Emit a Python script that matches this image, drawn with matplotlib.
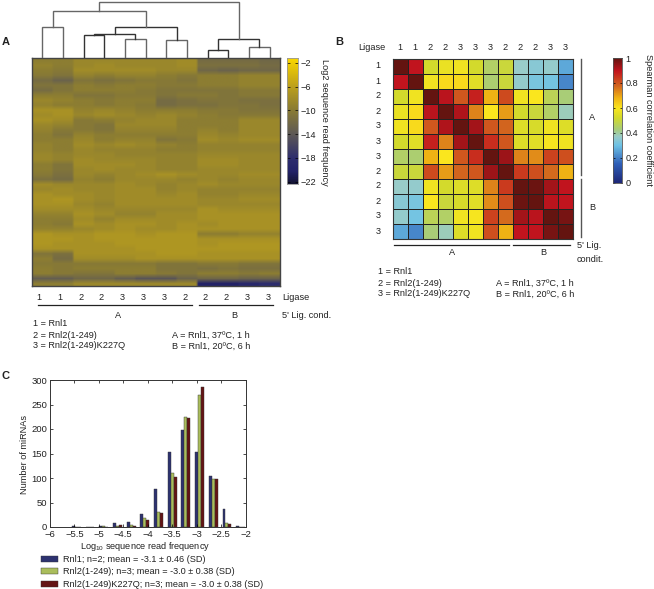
import matplotlib
matplotlib.use('Agg')
import matplotlib.pyplot as plt
import numpy as np
from matplotlib.colors import LinearSegmentedColormap

plt.rcParams['font.family'] = ['Liberation Sans', 'DejaVu Sans']
plt.rcParams['font.size'] = 6.6
plt.rcParams['mathtext.default'] = 'regular'

W, H = 654, 589

# panel A, log2 read frequency, one row per band (top to bottom), 12 libraries
heat_rows = [
    [-10, -10, -9, -9, -9, -9, -9, -8.5, -12, -12, -12, -12.5],
    [-9.5, -10, -9, -8.5, -9, -9, -9, -8.5, -11.5, -11.5, -11.5, -12],
    [-10, -10.5, -8.5, -8.5, -8.5, -8.5, -9, -9, -12.5, -13, -12.5, -12.5],
    [-10.5, -11, -9.5, -10, -9.5, -9.5, -10, -10.5, -10, -10, -9.5, -9.5],
    [-12, -13, -11, -11.5, -11, -10.5, -10.5, -11, -10, -10, -9.5, -9.5],
    [-11, -11, -10, -10.5, -10, -10, -10.5, -10.5, -10, -10, -9.5, -9.5],
    [-12, -11, -10, -10, -10, -10.5, -11, -11, -11, -11, -10.5, -10.5],
    [-10, -10, -11, -11, -10.5, -10.5, -11, -10.5, -10.5, -11, -10.5, -10.5],
    [-9, -9.5, -10, -10.5, -10, -10, -12, -11.5, -11, -11, -11.5, -11.5],
    [-9.5, -10, -10, -10.5, -10, -10.5, -12, -11.5, -11.5, -11, -11, -11.5],
    [-8, -8, -9.5, -9, -9.5, -10, -10, -10, -10.5, -10.5, -11, -11],
    [-8.5, -8, -9, -8.5, -9, -9.5, -9, -9.5, -10, -10.5, -10.5, -10.5],
    [-8, -8.5, -10.5, -10, -9.5, -9, -9, -10, -10, -10, -9, -9],
    [-9, -9.5, -10.5, -11, -9, -9, -9, -10, -10, -10, -9, -9],
    [-9.5, -10.5, -10.5, -11, -9.5, -9.5, -9.5, -10, -9.5, -10, -9, -9],
    [-10, -11, -9.5, -10, -10, -10, -10, -10, -9, -9.5, -9, -9],
    [-10, -10, -9, -10, -9.5, -9.5, -11, -10.5, -8.5, -9, -8.5, -8.5],
    [-9.5, -10, -8.5, -9, -8.5, -9, -9.5, -10, -9.5, -9.5, -9.5, -9.5],
    [-9.5, -10, -9, -9.5, -9.5, -9.5, -10, -10, -9.5, -9.5, -9.5, -9.5],
    [-9, -9.5, -9, -9, -9.5, -9.5, -9.5, -9.5, -9, -9, -9, -9],
    [-9, -9.5, -8.5, -9, -9, -9, -9.5, -9.5, -8.5, -8.5, -9, -9],
    [-10, -11, -8.5, -8.5, -8.5, -9, -9.5, -9.5, -8.5, -8.5, -9, -9],
    [-10, -11, -9, -8.5, -9, -9, -9.5, -9.5, -9, -9, -9, -9],
    [-10.5, -11.5, -9, -9.5, -9, -8.5, -8, -8.5, -9, -9, -8.5, -8.5],
    [-11.5, -12, -9.5, -10, -9, -9, -9, -9.5, -9, -9.5, -9, -9],
    [-8.5, -9, -9, -9, -8.5, -9, -9.5, -9, -8.5, -9, -9, -9],
    [-9, -8.5, -9, -9, -8.5, -8.5, -9.5, -9, -9.5, -9.5, -9.5, -9.5],
    [-8, -8.5, -8.5, -9, -8.5, -8.5, -9, -8.5, -9.5, -9.5, -9, -9],
    [-8, -7.5, -8.5, -9, -8.5, -8.5, -8.5, -8.5, -9, -9, -8.5, -8.5],
    [-8, -8, -9, -9.5, -8.5, -8.5, -8.5, -8.5, -9, -9, -9, -9],
    [-8.5, -8.5, -8.5, -9, -9, -9, -9, -9, -8, -8.5, -8.5, -8.5],
    [-9.5, -9.5, -8, -8.5, -9.5, -9.5, -8.5, -8.5, -8, -8, -8, -8],
    [-10, -10, -8.5, -9.5, -8.5, -8.5, -8.5, -8.5, -8, -8, -8, -8],
    [-10, -10.5, -8, -8.5, -8, -8, -8.5, -8, -8.5, -8, -8, -8],
    [-9.5, -9.5, -9, -8.5, -8, -8.5, -8.5, -8, -8, -8, -8, -8],
    [-7.5, -8, -8, -7.5, -7.5, -8, -7.5, -7.5, -10, -10, -9.5, -9.5],
    [-7.5, -7.5, -8, -7.5, -7.5, -7.5, -7.5, -7.5, -8, -8, -8, -8],
    [-7.5, -8, -8, -8, -7.5, -7.5, -7.5, -7.5, -8, -7.5, -7.5, -7.5],
    [-8, -8, -8, -8, -8, -7.5, -7.5, -7.5, -7.5, -7.5, -7.5, -7.5],
    [-11, -11.5, -8, -8, -8, -8, -7.5, -7.5, -8, -8, -8, -8],
    [-10, -12, -8.5, -8.5, -8.5, -8, -8, -8, -8, -8, -8, -8],
    [-10.5, -10.5, -10.5, -10.5, -10.5, -10.5, -11, -11, -10.5, -10.5, -11, -11],
    [-10, -10.5, -10, -10, -10, -10, -11, -11, -11.5, -11, -11.5, -11.5],
    [-10, -10.5, -11, -11, -10, -10, -10.5, -11, -10, -10, -10.5, -10],
    [-13.5, -13.5, -12.5, -12.5, -13.5, -14.5, -14.5, -13, -12.5, -12.5, -13, -13],
    [-10, -10, -9, -9, -9, -9, -9, -9, -20, -20, -19, -18],
]
heat_ligase = ['1', '1', '2', '2', '3', '3', '3', '2', '2', '2', '3', '3']

# dendrogram merges: child a, child b, height (leaves 0-11, then new nodes from 12)
dendro_merges = [
    (0, 1, 31),
    (2, 3, 23),
    (4, 5, 19),
    (12 + 1, 12 + 2, 24),
    (6, 7, 18),
    (12 + 3, 12 + 4, 31),
    (12 + 0, 12 + 5, 47),
    (8, 9, 8),
    (10, 11, 11),
    (12 + 7, 12 + 8, 19),
    (12 + 6, 12 + 9, 56),
]

# panel B, Spearman correlation
corr_labels = ['1', '1', '2', '2', '3', '3', '3', '2', '2', '2', '3', '3']
corr_rows = [
    [1.00, .90, .52, .57, .58, .52, .45, .50, .37, .34, .36, .26],
    [.90, 1.00, .58, .62, .62, .55, .44, .50, .36, .32, .31, .21],
    [.52, .58, 1.00, .91, .80, .88, .68, .82, .58, .60, .47, .43],
    [.57, .62, .91, 1.00, .92, .74, .60, .71, .52, .50, .45, .38],
    [.58, .62, .80, .92, 1.00, .93, .80, .78, .54, .53, .58, .54],
    [.52, .55, .88, .74, .93, 1.00, .86, .80, .54, .55, .59, .58],
    [.45, .44, .68, .60, .80, .86, 1.00, .94, .74, .73, .83, .81],
    [.50, .50, .82, .71, .78, .80, .94, 1.00, .84, .81, .77, .68],
    [.37, .36, .58, .52, .54, .54, .74, .84, 1.00, .99, .93, .90],
    [.34, .32, .60, .50, .53, .55, .73, .81, .99, 1.00, .91, .90],
    [.36, .31, .47, .45, .58, .59, .83, .77, .93, .91, 1.00, .98],
    [.26, .21, .43, .38, .54, .58, .81, .68, .90, .90, .98, 1.00],
]

# panel C, histogram
hist_centers = [-5.46, -5.18, -4.90, -4.62, -4.34, -4.06, -3.78, -3.50, -3.22, -2.94, -2.66, -2.38, -2.10]
rnl1_counts = [1.5, 1, 2, 8, 10, 26, 78, 153, 198, 153, 104, 37, 2]
rnl2_counts = [1, 0, 2, 3, 4, 19, 31, 110, 224, 270, 97, 8, 0]
k227q_counts = [0, 0, 1, 5, 2, 14, 29, 103, 222, 286, 98, 7, 0]
hist_names = ['Rnl1; n=2; mean = -3.1 ± 0.46 (SD)',
              'Rnl2(1-249); n=3; mean = -3.0 ± 0.38 (SD)',
              'Rnl2(1-249)K227Q; n=3; mean = -3.0 ± 0.38 (SD)']
hist_colors = ['#2d3270', '#aabd5c', '#641414']

TXT = '#222222'


def px_axes(fig, x0, y0, x1, y1):
    # axes from pixel box, y measured from the top
    return fig.add_axes([x0 / W, 1 - y1 / H, (x1 - x0) / W, (y1 - y0) / H])


def put(fig, x, y, s, **kw):
    kw.setdefault('va', 'center')
    kw.setdefault('color', TXT)
    fig.text(x / W, 1 - y / H, s, **kw)


def hline(fig, x0, x1, y, c='#222222', lw=0.9):
    fig.add_artist(plt.Line2D([x0 / W, x1 / W], [1 - y / H, 1 - y / H], color=c, lw=lw))


def vline(fig, x, y0, y1, c='#555555', lw=1.0):
    fig.add_artist(plt.Line2D([x / W, x / W], [1 - y0 / H, 1 - y1 / H], color=c, lw=lw))


fig = plt.figure(figsize=(W / 100, H / 100), dpi=100)

put(fig, 2, 42, 'A', fontweight='bold', fontsize=8)
put(fig, 335, 42, 'B', fontweight='bold', fontsize=8)
put(fig, 2, 376, 'C', fontweight='bold', fontsize=8)

# ---- panel A
log_cmap = LinearSegmentedColormap.from_list('logfreq', [
    (0.0, '#141432'), (0.1, '#232369'), (0.2, '#2d2d6e'), (0.4, '#5f5a55'),
    (0.6, '#8c7d32'), (0.8, '#c3a519'), (1.0, '#fad700')])

ax = px_axes(fig, 32, 58, 280, 286)
# repeat columns so the bilinear smoothing only softens the rows, not the library columns
heat = np.repeat(np.array(heat_rows), 8, axis=1)
ax.imshow(heat, aspect='auto', cmap=log_cmap, vmin=-22, vmax=-2, interpolation='bilinear')
ax.set_xticks([])
ax.set_yticks([])
for s in ax.spines.values():
    s.set_color('#444444')
    s.set_linewidth(1.0)

# dendrogram, same x scale as the heat map columns
dax = px_axes(fig, 32, 0, 280, 58)
dax.set_xlim(-0.5, 11.5)
dax.set_ylim(0, 58)
dax.axis('off')
node_x = {i: float(i) for i in range(12)}
node_h = {i: 0 for i in range(12)}
for n, (a, b, h) in enumerate(dendro_merges):
    dax.plot([node_x[a], node_x[a], node_x[b], node_x[b]], [node_h[a], h, h, node_h[b]],
             color='#333333' if n % 2 else '#666666', lw=1.0, solid_joinstyle='miter')
    node_x[12 + n] = (node_x[a] + node_x[b]) / 2
    node_h[12 + n] = h

cax = px_axes(fig, 287, 58, 298, 184)
grad = np.linspace(-2, -22, 200).reshape(-1, 1)
cax.imshow(grad, aspect='auto', cmap=log_cmap, vmin=-22, vmax=-2, extent=[0, 1, -22.4, -1.2])
cax.set_xticks([])
cax.set_yticks([-2, -6, -10, -14, -18, -22])
cax.set_yticklabels(['\u22122', '\u22126', '\u221210', '\u221214', '\u221218', '\u221222'], color=TXT)
cax.yaxis.tick_right()
cax.tick_params(axis='y', length=2, width=0.5, pad=1.5, direction='in', right=True, left=True)
for s in cax.spines.values():
    s.set_color('#999999')
    s.set_linewidth(0.6)
put(fig, 324, 122, 'Log2 sequence read frequency', rotation=270, ha='center')

for i, lab in enumerate(heat_ligase):
    put(fig, 39 + i * 20.8, 297, lab, ha='center')
put(fig, 282, 297, 'Ligase')
hline(fig, 38, 192, 305)
hline(fig, 199, 273, 305)
put(fig, 118, 316, 'A', ha='center')
put(fig, 234, 316, 'B', ha='center')
put(fig, 282, 316, "5' Lig. cond.")
put(fig, 33, 324, '1 = Rnl1')
put(fig, 33, 335, '2 = Rnl2(1-249)')
put(fig, 33, 346, '3 = Rnl2(1-249)K227Q')
put(fig, 172, 335, 'A = Rnl1, 37ºC, 1 h')
put(fig, 172, 346, 'B = Rnl1, 20ºC, 6 h')

# ---- panel B
corr_cmap = LinearSegmentedColormap.from_list('corr', [
    (0.0, '#1e2878'), (0.15, '#2f5fb8'), (0.3, '#6ec3e6'), (0.37, '#9accc8'), (0.43, '#a8cd78'),
    (0.52, '#d2da2c'), (0.6, '#fae61e'), (0.68, '#f0b414'), (0.78, '#d2641e'),
    (0.9, '#c3141e'), (1.0, '#641410')])

bax = px_axes(fig, 392.5, 58.5, 572.5, 238.5)
bax.pcolormesh(np.array(corr_rows), cmap=corr_cmap, vmin=0, vmax=1, edgecolors='#222222', linewidth=0.7)
bax.invert_yaxis()
bax.set_xticks([])
bax.set_yticks([])
for s in bax.spines.values():
    s.set_color('#333333')
    s.set_linewidth(0.8)

for i, lab in enumerate(corr_labels):
    put(fig, 400 + i * 15, 47, lab, ha='center')
    put(fig, 378, 66 + i * 15, lab, ha='center')
put(fig, 358, 47, 'Ligase')
vline(fig, 581, 59, 175)
vline(fig, 581, 179, 237)
put(fig, 592, 117, 'A', ha='center')
put(fig, 592, 208, 'B', ha='center')
hline(fig, 394, 509, 245)
hline(fig, 513, 570, 245)
put(fig, 452, 253, 'A', ha='center')
put(fig, 543, 253, 'B', ha='center')
put(fig, 577, 246, "5' Lig.")
put(fig, 577, 259, 'condit.')
put(fig, 378, 272, '1 = Rnl1')
put(fig, 378, 283, '2 = Rnl2(1-249)')
put(fig, 378, 294, '3 = Rnl2(1-249)K227Q')
put(fig, 496, 283, 'A = Rnl1, 37ºC, 1 h')
put(fig, 496, 294, 'B = Rnl1, 20ºC, 6 h')

cbx = px_axes(fig, 613, 58, 622, 183)
grad = np.linspace(1, 0, 200).reshape(-1, 1)
cbx.imshow(grad, aspect='auto', cmap=corr_cmap, vmin=0, vmax=1, extent=[0, 1, 0, 1])
cbx.set_xticks([])
cbx.set_yticks([0, 0.2, 0.4, 0.6, 0.8, 1])
cbx.set_yticklabels(['0', '0.2', '0.4', '0.6', '0.8', '1'], color=TXT)
cbx.yaxis.tick_right()
cbx.tick_params(axis='y', length=1.5, width=0.5, pad=2.5, direction='in', right=True, left=True)
for s in cbx.spines.values():
    s.set_color('#555555')
    s.set_linewidth(0.6)
put(fig, 649, 120, 'Spearman correlation coefficient', rotation=270, ha='center')

# ---- panel C
hax = px_axes(fig, 50, 380, 245.5, 527)
bar_w = 0.06
centers = np.array(hist_centers)
for off, vals, col, name in zip((-bar_w, 0, bar_w), (rnl1_counts, rnl2_counts, k227q_counts), hist_colors, hist_names):
    hax.bar(centers + off, vals, bar_w, color=col, edgecolor='#333333', linewidth=0.3, label=name)
hax.set_xlim(-6, -2)
hax.set_ylim(0, 300)
hax.set_xticks([-6, -5.5, -5, -4.5, -4, -3.5, -3, -2.5, -2])
hax.set_xticklabels(['\u22126', '\u22125.5', '\u22125', '\u22124.5', '\u22124', '\u22123.5', '\u22123', '\u22122.5', '\u22122'], color=TXT)
hax.set_yticks([0, 50, 100, 150, 200, 250, 300])
hax.tick_params(axis='both', direction='in', top=True, right=True, length=2, width=0.5,
                labelsize=6.8, labelcolor=TXT)
hax.tick_params(axis='x', pad=2.2)
hax.tick_params(axis='y', pad=2)
for s in hax.spines.values():
    s.set_color('#333333')
    s.set_linewidth(0.7)
fig.text(145 / W, 1 - 549 / H, 'Log$_{10}$ sequence read frequency', ha='center', va='baseline', fontsize=6.6, color=TXT)
put(fig, 25, 455, 'Number of miRNAs', rotation=90, ha='center', fontsize=6.6)
hax.legend(loc='upper left', bbox_to_anchor=(41 / W, 1 - 555 / H), bbox_transform=fig.transFigure,
           frameon=False, handlelength=1.9, handleheight=0.7, handletextpad=0.45, borderpad=0,
           borderaxespad=0, labelspacing=0.38, fontsize=6.6, labelcolor=TXT)

fig.savefig('out.png', dpi=100)
